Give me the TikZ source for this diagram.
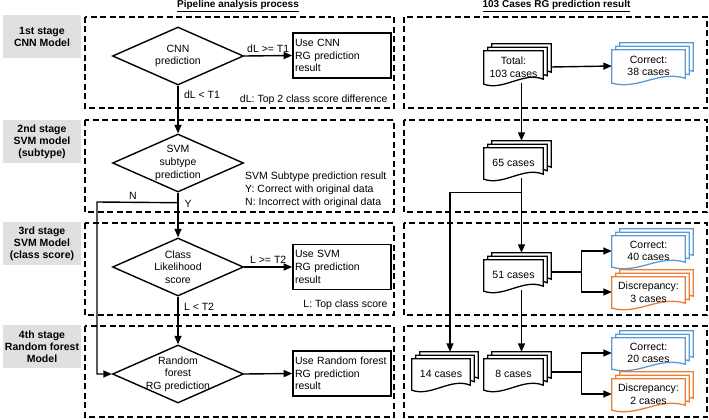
\documentclass[tikz,border=0pt]{standalone}
\usepackage{fontspec}
\setmainfont{Liberation Sans}
\usetikzlibrary{shapes.geometric,arrows.meta,calc}
\pgfdeclarelayer{background}
\pgfsetlayers{background,main}
\definecolor{stagegray}{HTML}{E0E0E0}
\definecolor{docblue}{HTML}{5B9BD5}
\definecolor{docorange}{HTML}{ED7D31}
\newcommand\docstack[2]{%
  \foreach \dx/\dy in {8/7,4/3.5,0/0}{%
    \draw[#2, fill=white, line width=1.3pt]
      ($(#1.north west)+(\dx,-\dy)$) -- ($(#1.north east)+(\dx,-\dy)$)
      -- ($(#1.south east)+(\dx,-\dy-4)$)
      .. controls ($(#1.south)+(\dx+10,-\dy-12)$) and ($(#1.south)+(\dx-10,-\dy+8)$) ..
      ($(#1.south west)+(\dx,-\dy+1)$) -- cycle;
  }}
\begin{document}
\begin{tikzpicture}[x=1pt,y=-1pt,font=\fontsize{10.5}{12.7}\selectfont,
  stagelabel/.style={fill=stagegray, minimum width=78, minimum height=43, align=center,
    inner sep=0pt, font=\fontsize{10.5}{12}\selectfont\bfseries},
  stagebox/.style={draw, dash pattern=on 6pt off 3.5pt, line width=1.5pt},
  decision/.style={diamond, draw, line width=1.4pt, minimum width=131, minimum height=58,
    aspect=2.26, inner sep=-14pt, align=center},
  resultbox/.style={draw, line width=1.6pt, minimum width=98, minimum height=45,
    text width=94, align=left, inner xsep=2pt, inner ysep=2pt,
    execute at begin node={\hyphenpenalty=10000\relax}},
  conn/.style={line width=1.4pt},
  arr/.style={line width=1.4pt, -{Triangle[length=8.5pt,width=7pt]}},
  doc/.style={minimum width=59, minimum height=30, inner sep=0pt, align=center},
  cdoc/.style={doc, minimum width=73}
]
\useasboundingbox (0,0) rectangle (709,420);

% titles
\node[font=\fontsize{10}{12}\selectfont\bfseries] (t1) at (238,6) {\underline{Pipeline analysis process}};
\node[font=\fontsize{10}{12}\selectfont\bfseries] (t2) at (556.5,6) {\underline{103 Cases RG prediction result}};

% stage labels
\node[stagelabel] (s1) at (42,36.5) {1st stage\\CNN Model};
\node[stagelabel] (s2) at (42,141.5) {2nd stage\\SVM model\\(subtype)};
\node[stagelabel] (s3) at (42,243.5) {3rd stage\\SVM Model\\(class score)};
\node[stagelabel] (s4) at (42,346.5) {4th stage\\Random forest\\Model};

% dashed stage boxes
\draw[stagebox] (85,17) rectangle (394,108);
\draw[stagebox] (85,120) rectangle (394,212);
\draw[stagebox] (85,223) rectangle (394,315);
\draw[stagebox] (85,326) rectangle (394,417);
\draw[stagebox] (404,17) rectangle (707,108);
\draw[stagebox] (404,120) rectangle (707,212);
\draw[stagebox] (404,223) rectangle (707,315);
\draw[stagebox] (404,326) rectangle (707,417);

% left pipeline
\node[decision] (cnn) at (178,56) {CNN\\prediction};
\node[decision] (svm) at (178,163) {SVM\\subtype\\prediction};
\node[decision] (cls) at (178,267) {Class\\Likelihood\\score};
\node[decision] (rf) at (178,374) {Random\\forest\\RG prediction};

\node[resultbox] (cnnres) at (342,55.5) {Use CNN\\RG prediction\\result};
\node[resultbox] (svmres) at (342,267) {Use SVM\\RG prediction\\result};
\node[resultbox] (rfres) at (342,373.5) {Use Random forest\\RG prediction\\result};

\draw[arr] (cnn.east) -- node[above=-1pt] (l1) {dL >= T1} (cnnres.west);
\draw[arr] (cnn.south) -- node[pos=0.2, right=2pt] (l2) {dL < T1} (svm.north);
\coordinate (nsplit) at ($(svm.south)+(0,10)$);
\coordinate (nleft) at (97,202);
\draw[arr] (svm.south) -- (cls.north);
\draw[arr] (nsplit) -- (nleft) |- (rf.west);
\node (nlab) at (133,196) {N};
\node (ylab) at (188,204) {Y};
\draw[arr] (cls.east) -- node[above=-1pt] (l3) {L >= T2} (svmres.west);
\draw[arr] (cls.south) -- node[pos=0.22, right=2pt] (l4) {L < T2} (rf.north);
\draw[arr] (rf.east) -- (rfres.west);

\node[anchor=east] (note1) at (391,100) {dL: Top 2 class score difference};
\node[anchor=north west, align=left, inner sep=0pt] (note2) at (245,172) {SVM Subtype prediction result\\Y: Correct with original data\\N: Incorrect with original data};
\node[anchor=east] (note3) at (391,305) {L: Top class score};

% right side documents
\node[doc, minimum height=32] (total) at (513.5,67) {Total:\\103 cases};
\node[cdoc, minimum height=32] (c38) at (648.5,66) {Correct:\\38 cases};
\node[doc] (sf) at (513.5,163) {65 cases};
\node[doc] (fo) at (513.5,275) {51 cases};
\node[doc, minimum width=58] (ft) at (441,374) {14 cases};
\node[doc] (eight) at (513.5,374) {8 cases};
\node[cdoc] (c40) at (648.5,251) {Correct:\\40 cases};
\node[cdoc] (d3) at (648.5,292) {Discrepancy:\\3 cases};
\node[cdoc] (c20) at (648.5,353) {Correct:\\20 cases};
\node[cdoc] (d2) at (648.5,394) {Discrepancy:\\2 cases};

\begin{pgfonlayer}{background}
\docstack{total}{draw=black}
\docstack{c38}{draw=docblue}
\docstack{sf}{draw=black}
\docstack{fo}{draw=black}
\docstack{ft}{draw=black}
\docstack{eight}{draw=black}
\docstack{c40}{draw=docblue}
\docstack{d3}{draw=docorange}
\docstack{c20}{draw=docblue}
\docstack{d2}{draw=docorange}
\end{pgfonlayer}

\draw[arr] ([xshift=8pt]total.east) -- (c38.west);
\draw[arr] ([xshift=8pt]total.south) -- ([xshift=8pt,yshift=7pt]sf.north);
\coordinate (sp65) at ($(sf.south)+(8,14)$);
\draw[arr] ([xshift=8pt]sf.south) -- (sp65) -- ([xshift=8pt,yshift=7pt]fo.north);
\draw[arr] (sp65) -| ([xshift=9pt,yshift=7pt]ft.north);
\coordinate (b51) at ($(fo.east)+(38,-3)$);
\draw[conn] ([xshift=8pt,yshift=3pt]fo.east) -- (b51);
\draw[arr] (b51) |- (c40.west);
\draw[arr] (b51) |- (d3.west);
\draw[arr] ([xshift=8pt]fo.south) -- ([xshift=8pt,yshift=7pt]eight.north);
\coordinate (b8) at ($(eight.east)+(38,-2)$);
\draw[conn] ([xshift=8pt,yshift=2pt]eight.east) -- (b8);
\draw[arr] (b8) |- (c20.west);
\draw[arr] (b8) |- (d2.west);
\end{tikzpicture}
\end{document}
